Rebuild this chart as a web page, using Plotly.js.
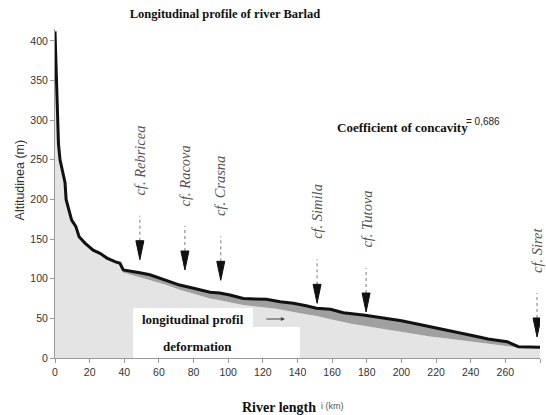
<!DOCTYPE html>
<html>
<head>
<meta charset="utf-8">
<script src="https://cdn.plot.ly/plotly-3.0.1.min.js"></script>
<style>html,body{margin:0;padding:0;background:#fff;}#chart{width:546px;height:415px;}</style>
</head>
<body>
<div id="chart"></div>
<script>
// Upper (actual) longitudinal profile: river length (km) vs altitude (m)
const profileKm  = [0, 0.4, 0.8, 1.3, 2.0, 2.9, 3.7, 4.8, 5.8, 6.4, 8, 9.6, 12, 13.9, 17.3, 22, 26, 30, 34.6, 37.5, 39.4, 44, 49, 54.8, 60, 64.5, 72, 81.8, 89.5, 95, 101, 108.7, 115, 122, 130, 137.6, 145, 151, 159, 166.5, 179, 191.5, 200, 207, 216.5, 228, 241.5, 250, 261, 267.5, 280];
const profileAlt = [412, 384, 340, 300, 270, 250, 241, 229, 221, 200, 186, 174, 166, 153, 145, 136, 132, 126, 121.5, 119.5, 111, 109.5, 107.6, 105, 101, 98.4, 92, 87, 83, 82, 79.5, 75, 74.5, 74, 71, 69, 66, 62.7, 61.5, 57, 54, 50, 47, 43.8, 39.5, 35, 28, 24, 20.6, 14.3, 13.5];
// Lower edge of the "longitudinal profil deformation" band
const deformKm  = [39.4, 44, 49, 56, 64.5, 72, 81.8, 89.5, 95, 108.7, 120, 128, 140, 151, 159, 172, 191.5, 205, 216.5, 230, 241.5, 255, 266];
const deformAlt = [108, 105, 102, 97, 92, 86, 80, 75, 73, 67, 64, 62, 57, 53, 49, 43, 36, 31, 27, 23.5, 20.6, 16.5, 13.5];
// Tributary confluences
const tribNames    = ['cf. Rebricea', 'cf. Racova', 'cf. Crasna', 'cf. Simila', 'cf. Tutova', 'cf. Siret'];
const tribKm       = [49, 75, 95.7, 151.3, 179.6, 278.3];
const tribArrowAlt = [124, 111, 98, 69, 58, 26.5];
// Axis ticks
const xTicks = [0, 20, 40, 60, 80, 100, 120, 140, 160, 180, 200, 220, 240, 260, 280];
const yTicks = [0, 50, 100, 150, 200, 250, 300, 350, 400];

const startK = deformKm[0], endK = deformKm[deformKm.length - 1];
const baseX = [], baseY = [];
profileKm.forEach((k, i) => { if (k < startK) { baseX.push(k); baseY.push(profileAlt[i]); } });
deformKm.forEach((k, i) => { baseX.push(k); baseY.push(deformAlt[i]); });
profileKm.forEach((k, i) => { if (k > endK) { baseX.push(k); baseY.push(profileAlt[i]); } });

const serif = 'serif';
const sans = 'Liberation Sans, Arial, sans-serif';

const traces = [
  { x: baseX, y: baseY, type: 'scatter', mode: 'lines', fill: 'tozeroy',
    fillcolor: '#e4e4e4', line: { width: 0, color: '#e4e4e4' }, hoverinfo: 'skip', showlegend: false },
  { x: profileKm, y: profileAlt, type: 'scatter', mode: 'lines', fill: 'tonexty',
    fillcolor: '#a0a0a0', line: { width: 3, color: '#111' }, showlegend: false }
];

const shapes = [];
const annotations = [];
tribKm.forEach((k, i) => {
  shapes.push({ type: 'line', xref: 'x', yref: 'y', xsizemode: 'pixel', ysizemode: 'pixel',
    xanchor: k, yanchor: tribArrowAlt[i], x0: 0, x1: 0, y0: 19, y1: 44,
    line: { color: '#777', width: 1, dash: 'dot' } });
  shapes.push({ type: 'path', xref: 'x', yref: 'y', xsizemode: 'pixel', ysizemode: 'pixel',
    xanchor: k, yanchor: tribArrowAlt[i], path: 'M -4,19 L 4,19 L 0,0 Z',
    fillcolor: '#111', line: { color: '#111', width: 1 } });
  annotations.push({ x: k, y: tribArrowAlt[i], xref: 'x', yref: 'y', text: tribNames[i],
    textangle: -90, showarrow: false, yanchor: 'bottom', xanchor: 'center', yshift: 62,
    font: { family: 'Liberation Serif', size: 14.5, color: '#555', style: 'italic' } });
});

shapes.push({ type: 'rect', xref: 'paper', yref: 'paper', x0: 0.161, x1: 0.408, y0: 0.094, y1: 0.152,
  fillcolor: '#fff', line: { width: 0 }, layer: 'above' });
shapes.push({ type: 'rect', xref: 'paper', yref: 'paper', x0: 0.161, x1: 0.505, y0: 0.0, y1: 0.094,
  fillcolor: '#fff', line: { width: 0 }, layer: 'above' });

annotations.push(
  { xref: 'paper', yref: 'paper', x: 0.285, y: 0.1185, xanchor: 'center', yanchor: 'middle', text: 'longitudinal profil',
    showarrow: false, font: { family: serif, size: 13, color: '#111', weight: 700 } },
  { xref: 'paper', yref: 'paper', x: 0.293, y: 0.034, xanchor: 'center', yanchor: 'middle', text: 'deformation',
    showarrow: false, font: { family: serif, size: 13, color: '#111', weight: 700 } },
  { xref: 'paper', yref: 'paper', x: 0.474, y: 0.1185, ax: -20, ay: 0, text: '', showarrow: true,
    arrowhead: 2, arrowsize: 0.8, arrowwidth: 1, arrowcolor: '#444' },
  { xref: 'paper', yref: 'paper', x: 0.577, y: 0.7, xanchor: 'left', yanchor: 'middle', text: 'Coefficient of concavity',
    showarrow: false, font: { family: serif, size: 13, color: '#111', weight: 700 } },
  { xref: 'paper', yref: 'paper', x: 0.843, y: 0.718, xanchor: 'left', yanchor: 'middle', text: '= 0,686',
    showarrow: false, font: { family: sans, size: 10, color: '#222' } },
  { xref: 'paper', yref: 'paper', x: -0.072, y: 0.54, xanchor: 'center', yanchor: 'middle', text: 'Altitudinea (m)',
    textangle: -90, showarrow: false, font: { family: sans, size: 12.5, color: '#333' } },
  { xref: 'paper', yref: 'paper', x: 0.542, y: -0.149, xanchor: 'right', yanchor: 'middle', text: 'River length',
    showarrow: false, font: { family: serif, size: 14, color: '#111', weight: 700 } },
  { xref: 'paper', yref: 'paper', x: 0.545, y: -0.146, xanchor: 'left', yanchor: 'middle', text: 'i (km)',
    showarrow: false, font: { family: sans, size: 9, color: '#555' } }
);

const layout = {
  width: 546, height: 415,
  margin: { l: 55, r: 6, t: 29, b: 57 },
  paper_bgcolor: '#fff', plot_bgcolor: '#fff',
  title: { text: 'Longitudinal profile of river Barlad', x: 0.412, xanchor: 'center', y: 0.968, yanchor: 'middle',
    font: { family: serif, size: 12.5, color: '#111', weight: 700 } },
  xaxis: { range: [0, 280], tickvals: xTicks, showgrid: false, zeroline: false, showline: true,
    linecolor: '#999', linewidth: 1, ticks: 'outside', ticklen: 4, tickcolor: '#999',
    tickfont: { family: sans, size: 10.5, color: '#333' }, fixedrange: true },
  yaxis: { range: [0, 415], tickvals: yTicks, showgrid: false, zeroline: false, showline: true,
    linecolor: '#999', linewidth: 1, ticks: 'outside', ticklen: 4, tickcolor: '#999',
    tickfont: { family: sans, size: 10.5, color: '#333' }, fixedrange: true },
  shapes: shapes,
  annotations: annotations,
  showlegend: false
};

Plotly.newPlot('chart', traces, layout, { displayModeBar: false, staticPlot: true });
</script>
</body>
</html>
